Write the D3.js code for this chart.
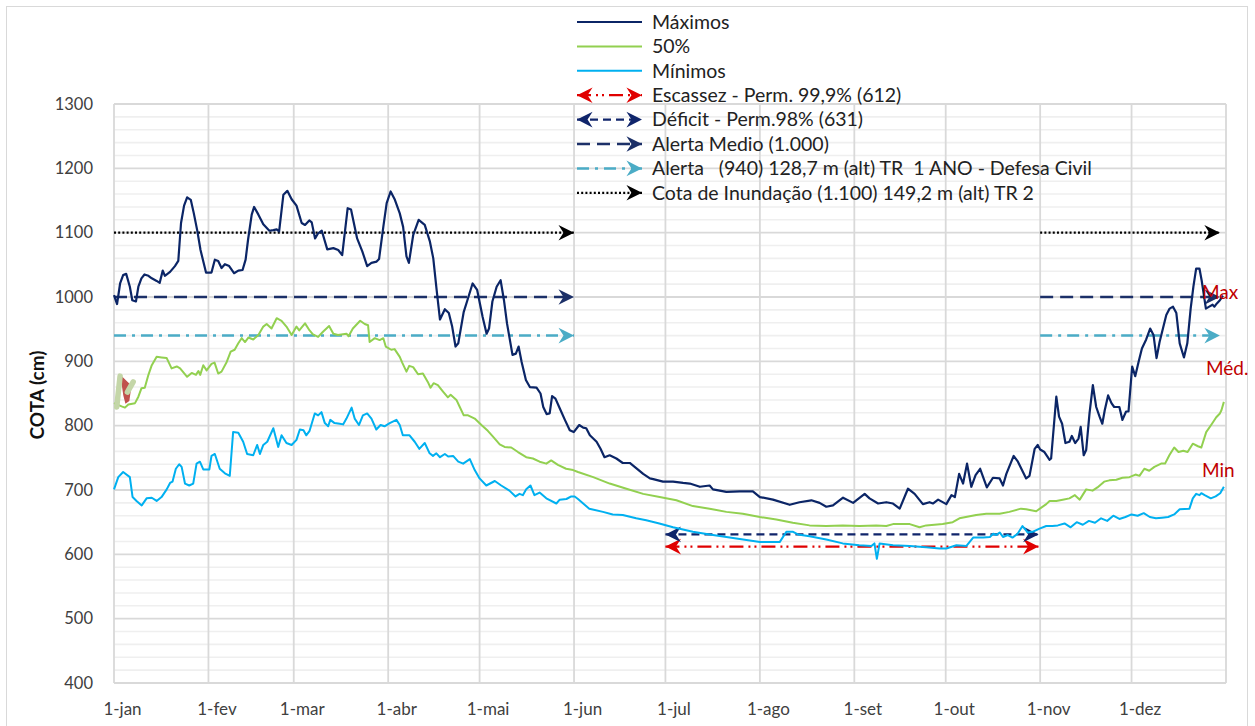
<!DOCTYPE html>
<html><head><meta charset="utf-8">
<script src="https://cdn.jsdelivr.net/npm/d3@7"></script>
<style>
html,body{margin:0;padding:0;background:#fff;}
svg{display:block;font-family:Lato,"Open Sans",sans-serif;}
</style></head>
<body>
<svg id="chart" width="1255" height="726"></svg>
<script>
// ---------- DATA ----------
const monthStarts = [0,31,59,90,120,151,181,212,243,273,304,334];
const monthLabels = ["1-jan","1-fev","1-mar","1-abr","1-mai","1-jun","1-jul","1-ago","1-set","1-out","1-nov","1-dez"];
const yTicks = [400,500,600,700,800,900,1000,1100,1200,1300];

const maxData = [[0,1003],[1,989],[2,1021],[3,1034],[4,1036],[5.2,1016],[6,995],[7.2,993],[8,1016],[9,1029],[10,1035],[11.3,1033],[12.4,1029],[14,1025],[15,1022],[16,1041],[16.7,1033],[18.4,1039],[20,1048],[21.1,1056],[22,1115],[23,1142],[24,1155],[25.2,1151],[26.2,1130],[27.3,1104],[28.4,1073],[30.2,1038],[32,1038],[33.1,1058],[34.2,1056],[35.3,1045],[36.4,1051],[37.8,1048],[39.4,1037],[40.8,1041],[42.2,1042],[43.2,1058],[44,1089],[45.2,1128],[46,1140],[47.4,1128],[49,1113],[51,1103],[52.3,1104],[53.4,1105],[54.2,1102],[55.6,1159],[56.9,1165],[58.3,1152],[59.9,1142],[61.6,1115],[62.7,1112],[64.1,1119],[64.9,1116],[66,1091],[67,1099],[68.2,1103],[70,1074],[72,1076],[73.6,1073],[74.9,1065],[76.7,1138],[77.8,1136],[79.8,1091],[81.5,1071],[83.1,1048],[84.5,1053],[86.2,1055],[87,1059],[88.4,1109],[89.5,1146],[90.8,1164],[92.2,1151],[93.8,1130],[94.9,1109],[96,1063],[96.8,1053],[98.2,1096],[100,1120],[102,1112],[103.7,1086],[104.8,1060],[105.9,1011],[107,965],[108.6,981],[109.9,975],[111,954],[112.1,923],[113,928],[114.8,977],[116,995],[117.7,1021],[119.2,1011],[121,969],[122.3,943],[123.1,951],[124.2,993],[125.6,1016],[126.9,1026],[128,995],[129,959],[130.8,910],[131.9,912],[132.8,923],[133.8,899],[135.2,871],[136.5,860],[138.7,859],[140,850],[140.9,829],[142,818],[143,819],[143.8,846],[144.9,842],[146.3,827],[148,809],[149.6,793],[150.9,790],[152.7,801],[154,797],[155,796],[156.2,785],[158.4,775],[159.7,764],[161,751],[162.7,754],[164.9,749],[167,742],[169.3,742],[170.9,736],[173.7,725],[175.9,718],[177,717],[180.2,713],[183.5,713],[186.8,711],[189,710],[192.3,705],[195.5,707],[196.6,701],[201,697],[205.4,698],[209.7,698],[212,689],[216.3,685],[221.8,677],[225,681],[228.9,684],[231.6,680],[233.8,674],[236,676],[239.3,688],[242.6,680],[246.4,694],[248,687],[250.8,679],[253.5,681],[255.7,679],[257.9,671],[260.6,702],[262.8,694],[265.5,678],[267.7,681],[268.8,679],[270.5,685],[273.2,678],[274.9,692],[276,689],[277.4,725],[278.7,710],[280,741],[281.4,705],[282.8,723],[284.3,733],[286.5,704],[288.5,719],[290.7,718],[291.8,707],[292.9,725],[295.3,753],[296.7,744],[299.4,718],[300.5,722],[302.2,764],[303.2,770],[304,763],[305.4,759],[307.1,747],[307.6,749],[309.3,845],[310.2,814],[311.2,803],[312.3,773],[313.6,775],[314.4,784],[315.5,773],[316.6,780],[317.3,798],[318.3,754],[319.1,762],[320.2,819],[321.3,863],[322.4,829],[323.5,814],[324.4,803],[325.2,824],[326.3,847],[327.4,835],[328.3,829],[330,829],[331,809],[332.2,822],[333,822],[334.2,892],[335.2,877],[336.3,899],[337.4,920],[338.8,934],[340.1,951],[341.2,941],[342.2,905],[343.2,930],[344.3,951],[345.4,972],[346.5,982],[347.6,985],[348.7,975],[349.8,928],[351.2,906],[352.3,928],[353.4,982],[354.3,1016],[355.2,1044],[356.3,1044],[357,1026],[358.4,982],[359.5,985],[360.6,988],[361.2,985],[362,990],[363,995],[364,1002]];

const medData = [[0,835],[2.5,830],[3.6,828],[4.7,833],[6.9,835],[8,845],[9,858],[10.1,859],[11.3,879],[12.4,894],[14,907],[15.6,906],[17.3,905],[18.9,889],[20.6,892],[21.7,889],[24,876],[25.5,882],[26.9,879],[27.7,885],[28.3,879],[29.3,894],[30.4,886],[32,896],[33,898],[34.2,881],[35.3,884],[37,899],[38.3,915],[39.6,918],[40.8,928],[41.9,936],[43,930],[44.1,937],[45.7,934],[47.4,941],[49,954],[50.1,958],[51.7,951],[53.4,967],[55,963],[56.6,954],[58.3,941],[59.9,954],[60.8,948],[62.7,959],[64.2,948],[65.3,942],[67,938],[68.6,946],[70.6,955],[72,943],[73.5,941],[76.3,943],[77,939],[78.4,951],[80.8,963],[82.3,958],[83.4,956],[83.9,930],[85.6,936],[87.2,933],[88.4,936],[89.2,923],[91,918],[92.1,919],[93.8,907],[94.6,898],[96,884],[96.9,893],[98.2,891],[99.8,880],[101.4,881],[103,868],[103.9,859],[104.9,866],[106.3,863],[108,853],[109.6,844],[110.5,848],[112.4,840],[113.5,829],[114.8,816],[116.2,816],[118.4,811],[120.6,801],[122.7,792],[124.4,783],[126.6,771],[128.2,767],[130.4,766],[132.6,759],[135.3,751],[137.5,749],[139.7,744],[141.9,741],[143.5,746],[145.7,739],[148.4,733],[150.7,731],[152.3,728],[157.3,720],[162.7,710],[168.2,702],[173.7,694],[179.1,689],[184.6,684],[190,675],[195.5,671],[201,666],[206.4,663],[212,658],[217.4,654],[222.8,649],[228.3,645],[233.8,644],[239.2,645],[244.7,644],[250.2,645],[253.5,644],[255.7,647],[261.2,647],[264.4,642],[266.6,645],[272,647],[275.3,650],[277.5,656],[283,661],[286.3,663],[290.7,663],[293.9,666],[297.7,671],[299.4,670],[302.7,667],[306,678],[307.1,683],[309.3,683],[311.4,685],[313.6,687],[315.4,692],[317,685],[319.1,701],[321.2,699],[322.8,704],[325,713],[326.7,715],[329,716],[331,719],[333.3,720],[335.3,724],[336.6,722],[338.2,733],[339.8,730],[341.5,736],[343.7,741],[345,741],[346.4,754],[348,766],[349.4,759],[351,761],[352.4,759],[354.1,772],[355.8,768],[356.9,766],[358.5,790],[360.4,803],[361.8,813],[363,819],[363.5,824],[364.3,837]];

const minData = [[0,701],[1.4,720],[3,728],[5.2,720],[6.1,689],[7.4,683],[9.1,676],[10.7,687],[12.4,688],[14,683],[15.6,689],[17.3,701],[18.4,711],[19.2,713],[20.3,733],[21.4,740],[22.2,736],[23.3,710],[24.7,707],[26,710],[27.1,741],[28.2,744],[29.3,732],[31.3,732],[32,753],[33.1,756],[34.7,733],[36.4,726],[38,722],[39.1,790],[40.8,789],[42.4,775],[43.7,756],[45.7,754],[47,770],[47.9,756],[49,770],[50.3,775],[52.3,796],[53.9,767],[55,785],[56.6,773],[58.3,770],[59.9,778],[61,794],[62.2,793],[63.1,785],[64.2,792],[65.9,819],[67,816],[68.1,821],[69.2,804],[70.3,799],[71,809],[72.4,804],[74.1,803],[75.2,802],[76.3,811],[78,828],[79,811],[80.4,801],[81.7,816],[83.1,819],[84.5,811],[86.1,794],[87.5,801],[88.8,799],[90.5,804],[92.7,809],[93.8,801],[94.8,785],[97,785],[98.7,775],[100.2,764],[102,773],[103.6,757],[104.7,753],[105.8,757],[107,751],[108.6,756],[109.7,752],[111.3,753],[113,744],[114.6,741],[116.8,748],[118.4,731],[120,718],[122.2,707],[125,714],[127.1,707],[129.8,699],[131.8,690],[133.1,694],[134.2,692],[135.3,701],[136.7,707],[138,692],[139.7,696],[141.9,687],[145.2,679],[146.3,685],[148.5,686],[150.1,690],[151.2,690],[152.3,686],[156,671],[160.5,666],[163.7,662],[167,661],[171.4,656],[174.7,653],[179,648],[183.5,642],[190,635],[195.5,631],[201,627],[206.5,623],[212,619],[218.5,619],[220.7,635],[222.9,635],[224.5,631],[228.3,628],[233.8,623],[239.2,617],[244.6,614],[248.6,613],[249.6,617],[250.4,593],[251.3,617],[255.7,614],[261.2,613],[266.6,611],[271,609],[273.2,609],[276.5,614],[279.8,613],[282,626],[285.3,626],[287.5,627],[288.6,632],[289.6,630],[290.7,634],[291.8,627],[293.4,630],[294.9,626],[296.6,632],[298.2,644],[299.9,634],[301.5,635],[303.8,640],[306,644],[308,644],[309.8,645],[312,648],[314,642],[316,650],[318,646],[320,652],[322,649],[324,656],[326,652],[328,660],[330,655],[332,658],[334,662],[336,660],[338,664],[340,658],[342,656],[344,657],[346,658],[348,662],[349.8,670],[353,671],[354.1,687],[355.2,694],[356.3,692],[356.9,695],[358,692],[360,687],[361.6,690],[363.1,695],[364.3,705]];

// small marks near the start of the 50% curve
const blobGreenA = [[0.9,829],[1.3,847],[2,877]];
const blobGreenB = [[4.4,852],[6.3,868]];
const blobRed = [[2.4,876],[3.3,847],[3.9,836],[4.8,839],[5.5,862],[4.6,866]];

const seriesNames = ["Máximos","50%","Mínimos"];
const refNames = ["Escassez - Perm. 99,9% (612)","Déficit - Perm.98% (631)","Alerta Medio (1.000)","Alerta   (940) 128,7 m (alt) TR  1 ANO - Defesa Civil","Cota de Inundação (1.100) 149,2 m (alt) TR 2"];
const refValues = [612, 631, 1000, 940, 1100];
const refSegments = [ [[181,303.5]], [[181,303.5]], [[0,151],[304,363]], [[0,151],[304,363]], [[0,151],[304,363]] ];
const refBothEnds = [true, true, false, false, false];
const endLabels = ["Max","Méd.","Min"];
const endLabelValues = [1008, 889, 730];

// ---------- STYLE ----------
const colMax = "#0b2566", colMed = "#92d050", colMin = "#00b0f0";
const refColors = ["#e00000","#10256b","#1c3068","#4bacc6","#000000"];
const refDash = ["14,5,2,4,2,5","8,5","13,7","12,6,3,6","2,2.2"];
const refWidth = [2.2,2.2,2.5,2.5,2.2];
const endLabelDx = [-21,-17,-21];

const svg = d3.select("#chart");
const x = d3.scaleLinear().domain([0,365]).range([114,1226]);
const y = d3.scaleLinear().domain([400,1300]).range([683,104]);

// outer border
svg.append("rect").attr("x",6.5).attr("y",6.5).attr("width",1241).attr("height",730)
  .attr("fill","none").attr("stroke","#d9d9d9").attr("stroke-width",1);

// markers
const defs = svg.append("defs");
refColors.forEach((c,i)=>{
  defs.append("marker").attr("id","arr"+i)
    .attr("markerUnits","userSpaceOnUse").attr("markerWidth",20).attr("markerHeight",20)
    .attr("viewBox","-16 -8 18 16").attr("refX",0).attr("refY",0)
    .attr("orient","auto-start-reverse")
    .append("path").attr("d","M0,0 L-14,-7 L-9.5,0 L-14,7 Z").attr("fill",c);
});

// grid
const g = svg.append("g");
d3.range(400,1301,20).forEach(v=>{
  if (v%100===0) return;
  g.append("line").attr("x1",x(0)).attr("x2",x(365)).attr("y1",y(v)).attr("y2",y(v))
   .attr("stroke","#efefef").attr("stroke-width",1.6);
});
yTicks.forEach(v=>{
  g.append("line").attr("x1",x(0)).attr("x2",x(365)).attr("y1",y(v)).attr("y2",y(v))
   .attr("stroke","#d9d9d9").attr("stroke-width",1.8);
});
monthStarts.concat([365]).forEach(d=>{
  g.append("line").attr("x1",x(d)).attr("x2",x(d)).attr("y1",y(1300)).attr("y2",y(400))
   .attr("stroke","#d9d9d9").attr("stroke-width",1.8);
});

// axes
const yAxis = d3.axisLeft(y).tickValues(yTicks).tickFormat(d3.format("d")).tickSize(0).tickPadding(0);
const ya = svg.append("g").attr("transform","translate(93,0)").call(yAxis);
ya.select(".domain").remove();
ya.selectAll("text").attr("font-size",16.5).attr("fill","#404040").attr("font-family","Lato");

const xAxis = d3.axisBottom(x).tickValues(monthStarts).tickFormat((d,i)=>monthLabels[i]).tickSize(0).tickPadding(0);
const xa = svg.append("g").attr("transform","translate(8,703)").call(xAxis);
xa.select(".domain").remove();
xa.selectAll("text").attr("font-size",17).attr("fill","#404040").attr("font-family","Lato");

svg.append("text").attr("transform","translate(44,395) rotate(-90)").attr("text-anchor","middle")
  .attr("font-size",19).attr("font-weight","bold").attr("fill","#111").text("COTA (cm)");

// reference lines
const line = d3.line().x(d=>x(d[0])).y(d=>y(d[1]));
refValues.forEach((v,i)=>{
  refSegments[i].forEach(s=>{
    const p = svg.append("path").attr("d", line([[s[0],v],[s[1],v]]))
      .attr("fill","none").attr("stroke",refColors[i]).attr("stroke-width",refWidth[i])
      .attr("stroke-dasharray",refDash[i]).attr("marker-end","url(#arr"+i+")");
    if (refBothEnds[i]) p.attr("marker-start","url(#arr"+i+")");
  });
});

// series
svg.append("path").attr("d",line(minData)).attr("fill","none").attr("stroke",colMin).attr("stroke-width",2).attr("stroke-linejoin","round");
svg.append("path").attr("d",line(medData)).attr("fill","none").attr("stroke",colMed).attr("stroke-width",2).attr("stroke-linejoin","round");
svg.append("path").attr("d",line(maxData)).attr("fill","none").attr("stroke",colMax).attr("stroke-width",2.2).attr("stroke-linejoin","round");

// start marks
svg.append("path").attr("d",line(blobRed)+"Z").attr("fill","#c0504d").attr("stroke","#c0504d").attr("stroke-width",1.5);
svg.append("path").attr("d",line(blobGreenA)).attr("fill","none").attr("stroke","#c4d6a8").attr("stroke-width",5.5).attr("stroke-linecap","round");
svg.append("path").attr("d",line(blobGreenB)).attr("fill","none").attr("stroke","#c4d6a8").attr("stroke-width",5.5).attr("stroke-linecap","round");

// end labels
endLabels.forEach((t,i)=>{
  svg.append("text").attr("x",x(364)+endLabelDx[i]).attr("y",y(endLabelValues[i])).attr("dy","0.35em")
    .attr("font-size",19).attr("fill","#c00000").text(t);
});

// legend
const lg = svg.append("g");
const lx0 = 577, lx1 = 642, ltx = 652, ly0 = 22, ldy = 24.4;
const legendItems = [
  {name:seriesNames[0], color:colMax, dash:null, w:2.2},
  {name:seriesNames[1], color:colMed, dash:null, w:2},
  {name:seriesNames[2], color:colMin, dash:null, w:2},
].concat(refNames.map((n,i)=>({name:n,color:refColors[i],dash:refDash[i],w:refWidth[i],ref:i})));
legendItems.forEach((it,k)=>{
  const yy = ly0 + k*ldy;
  const p = lg.append("line").attr("x1",lx0).attr("x2",lx1).attr("y1",yy).attr("y2",yy)
    .attr("stroke",it.color).attr("stroke-width",it.w);
  if (it.dash) p.attr("stroke-dasharray",it.dash);
  if (it.ref!==undefined){
    p.attr("marker-end","url(#arr"+it.ref+")");
    if (refBothEnds[it.ref]) p.attr("marker-start","url(#arr"+it.ref+")");
  }
  lg.append("text").attr("x",ltx).attr("y",yy).attr("dy","0.35em").attr("font-size",19.5)
    .attr("fill","#222").style("white-space","pre").text(it.name);
});
</script>
</body></html>
